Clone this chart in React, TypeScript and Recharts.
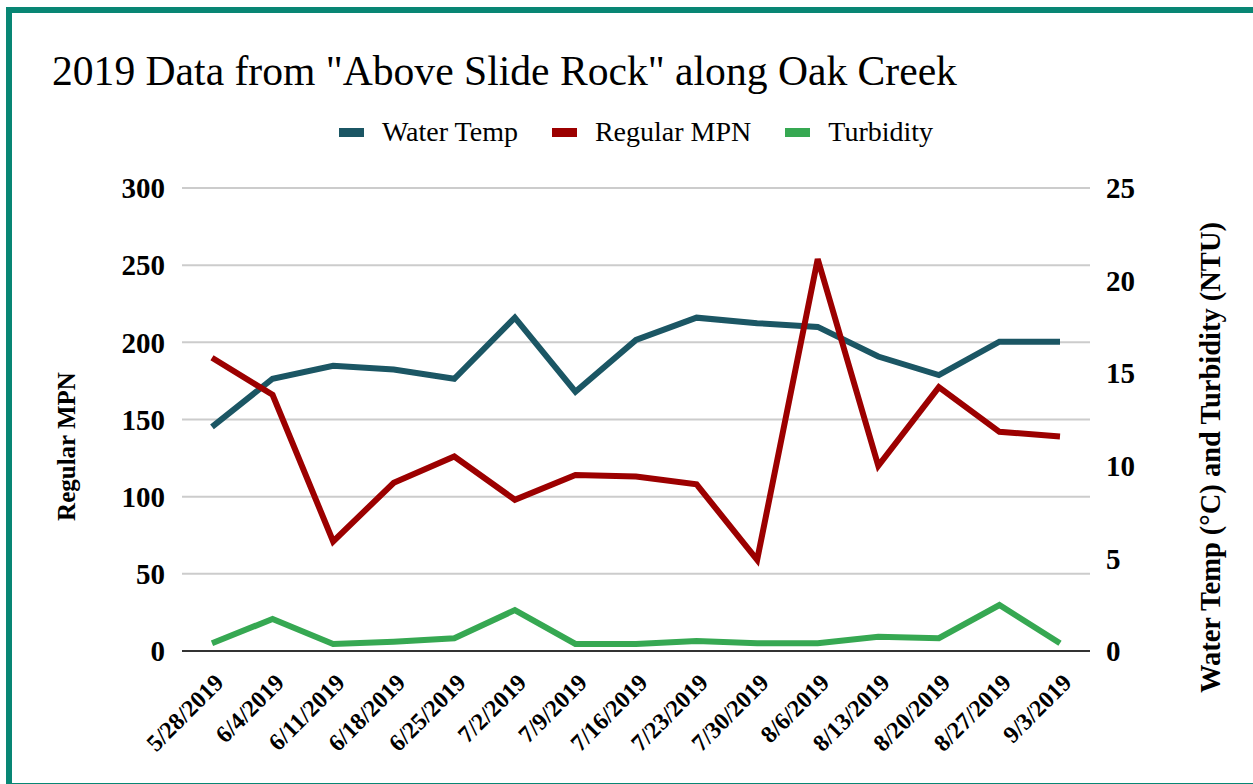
import React from 'react';
import { LineChart, Line, XAxis, YAxis, CartesianGrid } from 'recharts';

const dates = ['5/28/2019', '6/4/2019', '6/11/2019', '6/18/2019', '6/25/2019', '7/2/2019', '7/9/2019', '7/16/2019', '7/23/2019', '7/30/2019', '8/6/2019', '8/13/2019', '8/20/2019', '8/27/2019', '9/3/2019'];
const waterTemp = [12.1, 14.7, 15.4, 15.2, 14.7, 18.0, 14.0, 16.8, 18.0, 17.7, 17.5, 15.9, 14.9, 16.7, 16.7];
const regularMPN = [190, 166, 71, 109, 126, 98, 114, 113, 108, 59, 254, 120, 171, 142, 139];
const turbidity = [0.42, 1.73, 0.38, 0.5, 0.69, 2.21, 0.38, 0.38, 0.54, 0.42, 0.42, 0.77, 0.69, 2.48, 0.42];
const leftTicks = [0, 50, 100, 150, 200, 250, 300];
const rightTicks = [0, 5, 10, 15, 20, 25];
const seriesNames = ['Water Temp', 'Regular MPN', 'Turbidity'];

const data = dates.map((d, i) => ({ date: d, temp: waterTemp[i], mpn: regularMPN[i], turb: turbidity[i] }));

const FONT = '"Liberation Serif", "Times New Roman", serif';
const C_TEMP = '#1b5664';
const C_MPN = '#9c0000';
const C_TURB = '#36a852';
const seriesColors = [C_TEMP, C_MPN, C_TURB];

const XTick = (props: any) => {
  const { x, y, payload } = props;
  return (
    <g transform={`translate(${x + 13},${y + 25})`}>
      <text x={0} y={0} textAnchor="end" transform="rotate(-45)" fontFamily={FONT} fontWeight="bold" fontSize={24} fill="#000">
        {payload.value}
      </text>
    </g>
  );
};

const LeftTitle = (props: any) => {
  const vb = props.viewBox || { x: 0, y: 0, width: 0, height: 0 };
  const cx = vb.x - 16;
  const cy = vb.y + vb.height / 2 + 27;
  return (
    <text x={cx} y={cy} transform={`rotate(-90, ${cx}, ${cy})`} textAnchor="middle" dominantBaseline="central" fontFamily={FONT} fontWeight="bold" fontSize={25} fill="#000">
      Regular MPN
    </text>
  );
};

const RightTitle = (props: any) => {
  const vb = props.viewBox || { x: 0, y: 0, width: 0, height: 0 };
  const cx = vb.x + 120;
  const cy = vb.y + vb.height / 2 + 38;
  return (
    <text x={cx} y={cy} transform={`rotate(-90, ${cx}, ${cy})`} textAnchor="middle" dominantBaseline="central" fontFamily={FONT} fontWeight="bold" fontSize={28.5} fill="#000">
      Water Temp (°C) and Turbidity (NTU)
    </text>
  );
};

export default function App() {
  return (
    <div style={{ position: 'absolute', left: 0, top: 0, width: 1253, height: 784, overflow: 'hidden', background: '#fff' }}>
      <div style={{ position: 'absolute', left: 6, top: 7, width: 1280, height: 770, border: '6px solid #088674' }} />
      <div style={{ position: 'absolute', left: 52, top: 50, fontFamily: FONT, fontSize: 41.6, lineHeight: '42px', color: '#000', whiteSpace: 'nowrap' }}>
        2019 Data from "Above Slide Rock" along Oak Creek
      </div>
      <div style={{ position: 'absolute', left: 182, top: 116, width: 908, display: 'flex', justifyContent: 'center', alignItems: 'center', fontFamily: FONT, fontSize: 28, lineHeight: '32px', color: '#000' }}>
        {seriesNames.map((n, i) => (
          <div key={n} style={{ display: 'flex', alignItems: 'center', marginLeft: i === 0 ? 0 : 34 }}>
            <div style={{ width: 25, height: 9, background: seriesColors[i], marginRight: 18 }} />
            <span>{n}</span>
          </div>
        ))}
      </div>
      <div style={{ position: 'absolute', left: 0, top: 0 }}>
        <LineChart width={1253} height={784} data={data} margin={{ top: 188, right: 23, bottom: 23, left: 82 }}>
          <CartesianGrid horizontal={true} vertical={false} stroke="#cccccc" strokeWidth={2} yAxisId="left" />
          <XAxis dataKey="date" padding={{ left: 30, right: 30 }} tickLine={false} axisLine={{ stroke: '#333', strokeWidth: 2 }} tick={<XTick />} interval={0} height={110} />
          <YAxis yAxisId="left" orientation="left" domain={[0, 300]} ticks={leftTicks} width={100} tickLine={false} axisLine={false} tickMargin={11} tick={{ fontFamily: FONT, fontWeight: 'bold', fontSize: 29, fill: '#000' }} label={<LeftTitle />} />
          <YAxis yAxisId="right" orientation="right" domain={[0, 25]} ticks={rightTicks} width={140} tickLine={false} axisLine={false} tickMargin={10} tick={{ fontFamily: FONT, fontWeight: 'bold', fontSize: 29, fill: '#000', textAnchor: 'start' }} label={<RightTitle />} />
          <Line yAxisId="right" type="linear" dataKey="temp" name="Water Temp" stroke={C_TEMP} strokeWidth={6} dot={false} activeDot={false} isAnimationActive={false} strokeLinejoin="miter" />
          <Line yAxisId="left" type="linear" dataKey="mpn" name="Regular MPN" stroke={C_MPN} strokeWidth={6} dot={false} activeDot={false} isAnimationActive={false} strokeLinejoin="miter" />
          <Line yAxisId="right" type="linear" dataKey="turb" name="Turbidity" stroke={C_TURB} strokeWidth={6} dot={false} activeDot={false} isAnimationActive={false} strokeLinejoin="miter" />
        </LineChart>
      </div>
    </div>
  );
}
